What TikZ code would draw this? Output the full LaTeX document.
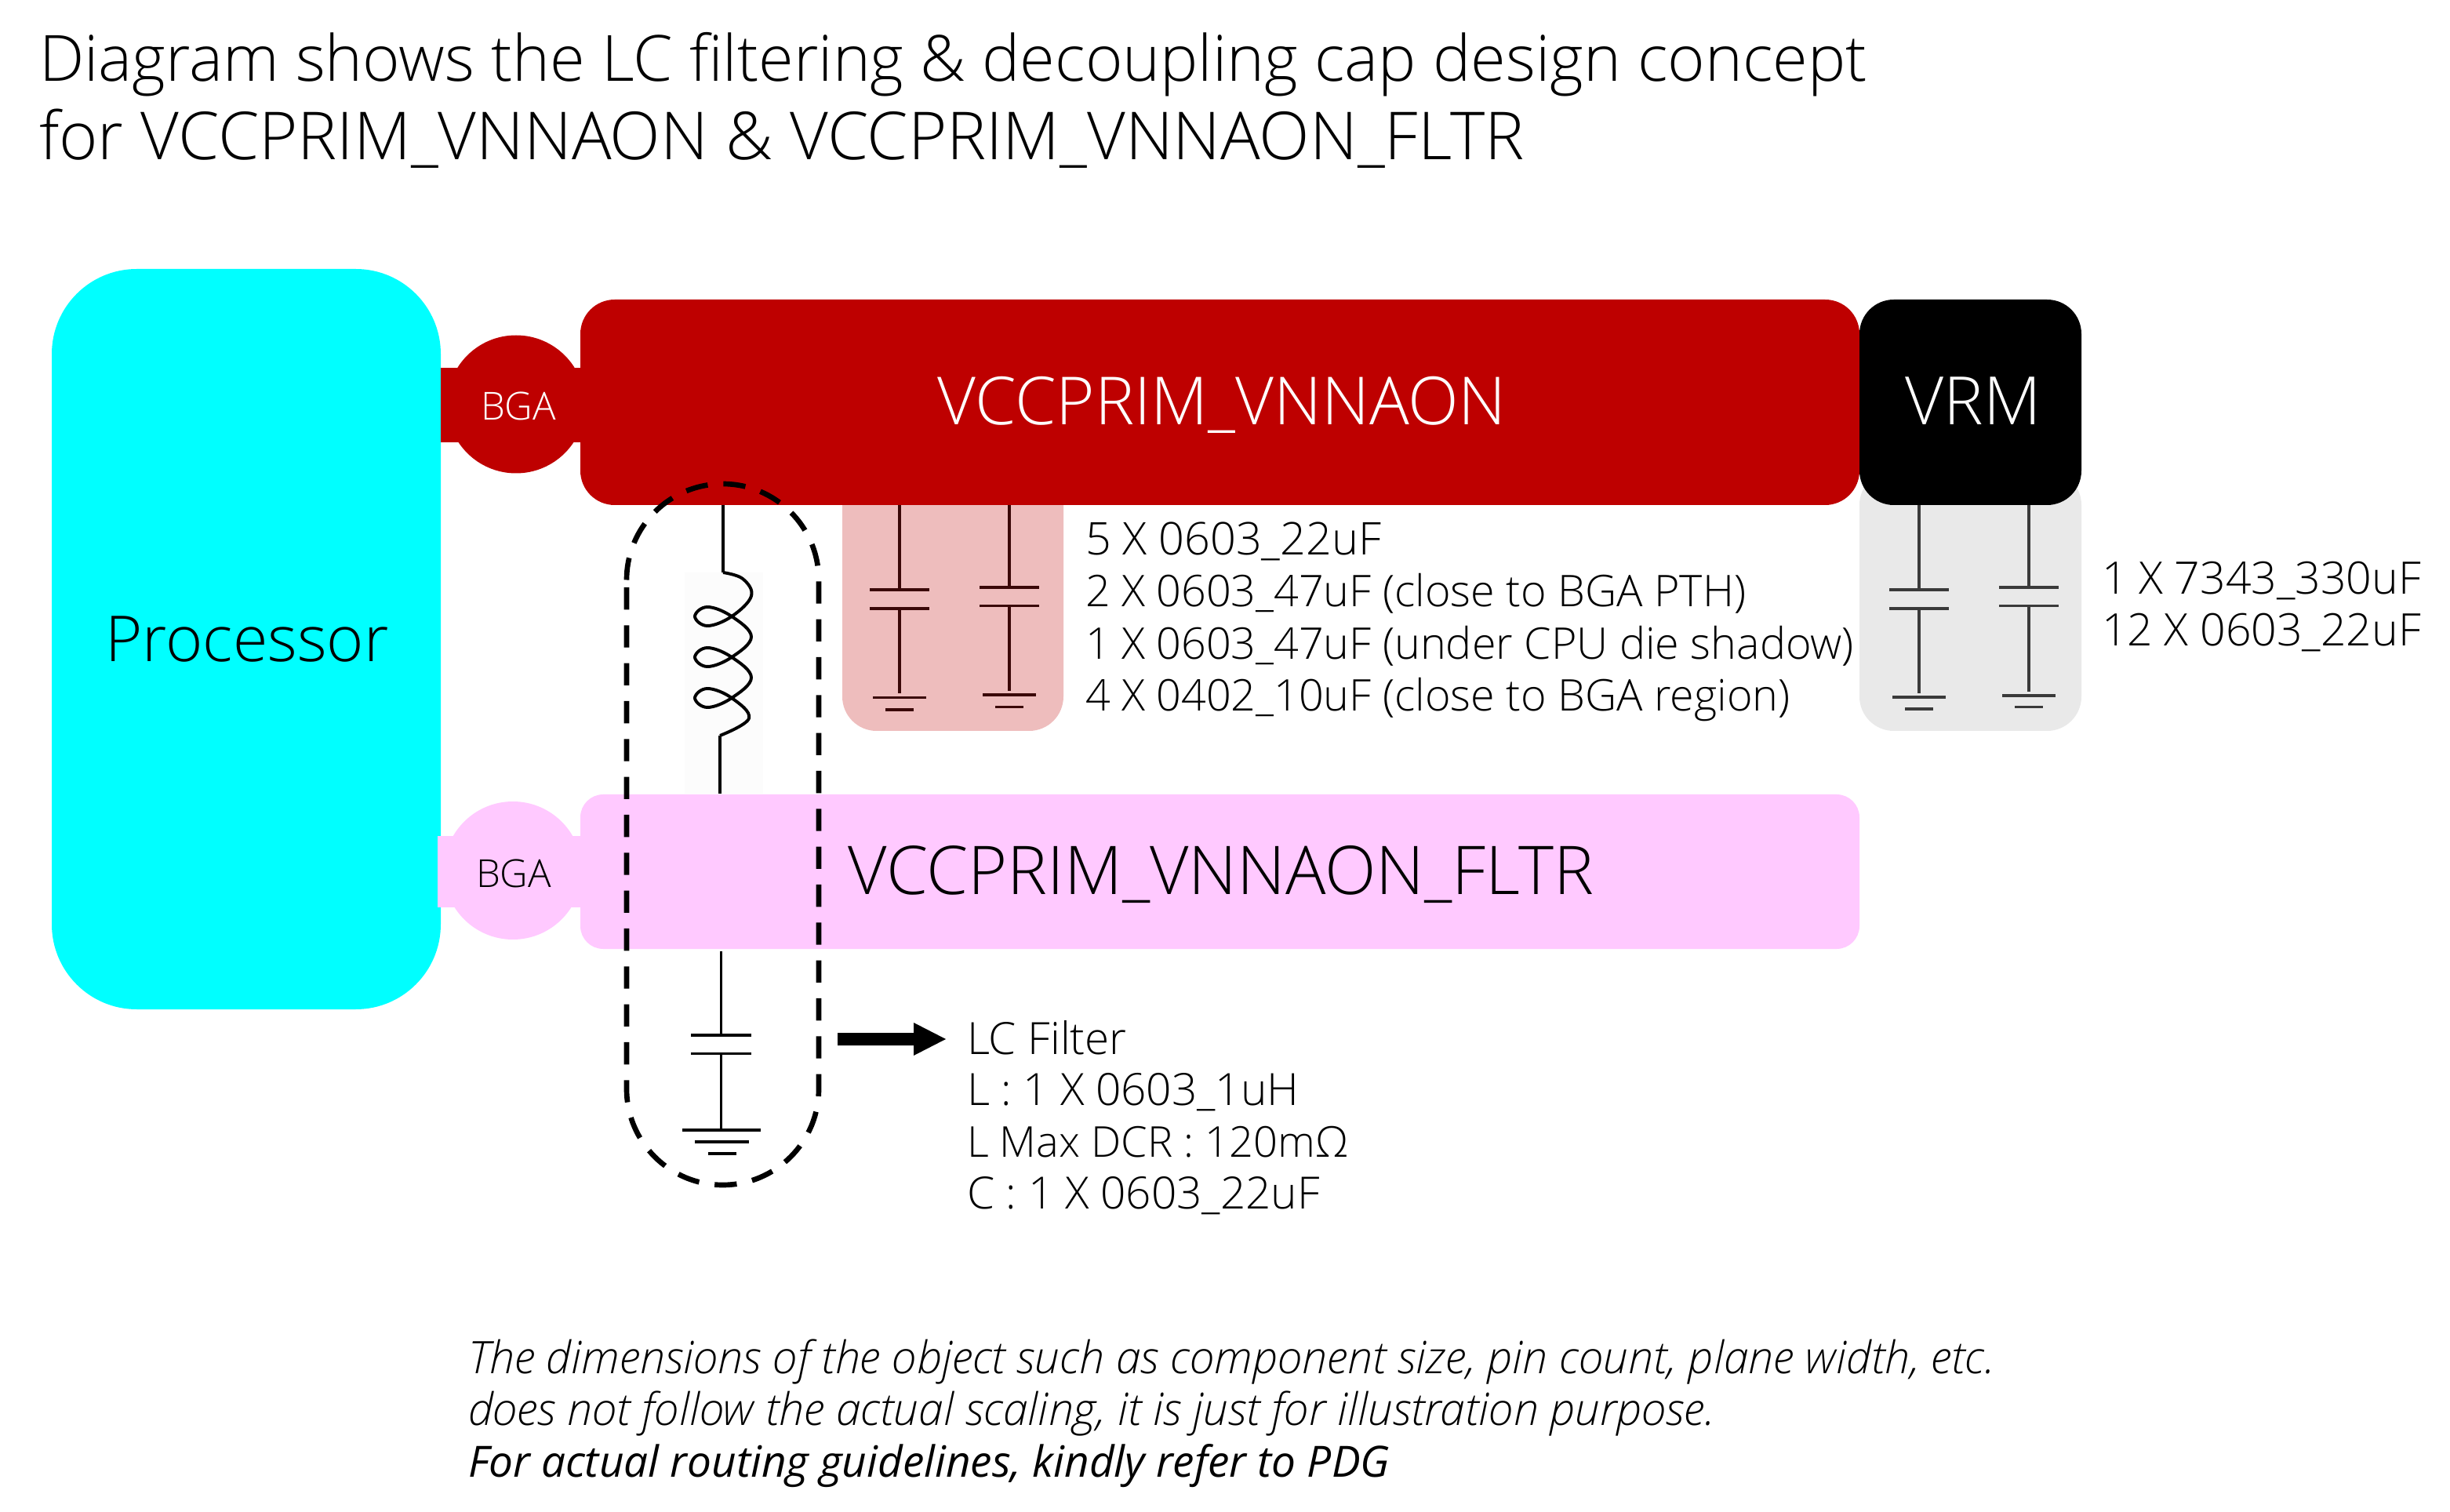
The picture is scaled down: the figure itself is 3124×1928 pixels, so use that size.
\documentclass[tikz,border=0pt]{standalone}
\usepackage{fontspec}
\setmainfont{Open Sans Light}[ItalicFont={Open Sans Light Italic},BoldFont={Open Sans}]
\newfontfamily\regf{Open Sans}[ItalicFont={Open Sans Italic}]
\usetikzlibrary{arrows.meta,calc}
\definecolor{cred}{HTML}{BE0000}
\definecolor{ccyan}{HTML}{00FFFF}
\definecolor{cpink}{HTML}{FFC9FF}
\definecolor{cpinkcap}{HTML}{EEBDBD}
\definecolor{cgrey}{HTML}{E9E9E9}
\definecolor{cdark}{HTML}{3A0808}
\definecolor{cgdark}{HTML}{3A3A3A}
\newcommand{\fs}[2]{\fontsize{#1}{#2}\selectfont}
\tikzset{
  x=0.24pt,y=-0.24pt,
  txt/.style={inner sep=0pt,outer sep=0pt,anchor=base},
  blk/.style={inner sep=0pt,outer sep=0pt,anchor=north west,align=left},
  wire/.style={line width=0.75pt},
  coil/.style={line width=0.95pt,line join=round},
  dashloop/.style={line width=1.6pt,dash pattern=on 6.8pt off 4.8pt,draw=black}
}
% \capg{x}{top}{plate1}{plate2}{gnd1}{gnd2}{colour}
\newcommand{\capg}[7]{%
  \draw[wire,draw=#7] (#1,#2) -- (#1,#3);
  \draw[wire,draw=#7] (#1-38,#3) -- (#1+38,#3);
  \draw[wire,draw=#7] (#1-38,#4) -- (#1+38,#4);
  \draw[wire,draw=#7] (#1,#4) -- (#1,#5-5);
  \draw[wire,draw=#7] (#1-34,#5) -- (#1+34,#5);
  \draw[wire,draw=#7] (#1-18,#6) -- (#1+18,#6);
}
\begin{document}
\begin{tikzpicture}
\useasboundingbox (0,0) rectangle (3124,1928);
% processor
\fill[ccyan,rounded corners=26pt] (66,343) rectangle (562,1287);
\node[txt,font=\fs{19.4}{24}] (proc) at (315,844) {Processor};
% cap backdrops
\fill[cpinkcap,rounded corners=10.5pt] (1074,600) rectangle (1356,932);
\fill[cgrey,rounded corners=10.5pt] (2371,600) rectangle (2654,932);
% red rail
\fill[cred] (562,469) rectangle (760,564);
\fill[cred] (658,515.5) circle[radius=88];
\fill[cred,rounded corners=10.5pt] (740,382) rectangle (2371,644);
\node[txt,font=\fs{20.3}{24},text=white] (rail) at (1558,542) {VCCPRIM\_VNNAON};
\node[txt,font=\fs{11.8}{16},text=white] (bgaa) at (661,536) {BGA};
% VRM
\fill[black,rounded corners=10.5pt] (2371,382) rectangle (2654,644);
\node[txt,font=\fs{20.4}{24},text=white] (vrm) at (2516,542) {VRM};
% caps
\capg{1147}{644}{752}{776}{889.5}{905}{cdark}
\capg{1287}{644}{749}{772.5}{886}{901.5}{cdark}
\capg{2447}{644}{752}{776}{889}{904}{cgdark}
\capg{2587}{644}{749}{772.5}{887}{901.5}{cgdark}
% faint inductor image backdrop
\fill[black!1.2] (873,730) rectangle (973,1012);
% inductor
\draw[coil] (922,644) -- (922,730);
\draw[coil] plot[smooth,tension=0.65] coordinates {(922,730) (947,738) (958,760) (933,786) (902,798) (886,786) (902,774) (933,786) (958,812) (933,838) (902,850) (886,838) (902,826) (933,838) (958,864) (933,890) (902,902) (886,890) (902,878) (933,890) (955,916) (918,938)};
\draw[coil] (918,938) -- (918,1012);
% filtered rail
\fill[cpink] (558,1066) rectangle (760,1157);
\fill[cpink] (654,1110) circle[radius=88];
\fill[cpink,rounded corners=7pt] (740,1013) rectangle (2371,1210);
\node[txt,font=\fs{20.56}{24}] (fltr) at (1557,1140) {VCCPRIM\_VNNAON\_FLTR};
\node[txt,font=\fs{11.8}{16}] (bgab) at (655,1131) {BGA};
% LC capacitor
\draw[wire] (919.5,1213) -- (919.5,1320);
\draw[wire] (881,1320) -- (958,1320);
\draw[wire] (881,1343.5) -- (958,1343.5);
\draw[wire] (919.5,1343.5) -- (919.5,1441);
\draw[wire] (870,1441) -- (970,1441);
\draw[wire] (886,1456) -- (955,1456);
\draw[wire] (903,1471) -- (939,1471);
% dashed outline
\draw[dashloop] (799,739.5) arc[start angle=180,end angle=360,radius=122.5] -- (1044,1388.5) arc[start angle=0,end angle=180,radius=122.5] -- cycle;
% arrow
\fill[black] (1068,1317) -- (1165,1317) -- (1165,1304) -- (1206,1325) -- (1165,1346) -- (1165,1333) -- (1068,1333) -- cycle;
% text
\node[blk,font=\fs{19.5}{24}] (title) at (50,41) {Diagram shows the LC filtering \& decoupling cap design concept\\{\fs{20.25}{24}for VCCPRIM\_VNNAON \& VCCPRIM\_VNNAON\_FLTR}};
\node[blk,font=\fs{13.35}{15.9}] (list) at (1384,666) {{\fs{13.8}{15.9}5 X 0603\_22uF}\\2 X 0603\_47uF (close to BGA PTH)\\1 X 0603\_47uF (under CPU die shadow)\\4 X 0402\_10uF (close to BGA region)};
\node[blk,font=\fs{13.7}{15.9}] (vrmlist) at (2680,716) {1 X 7343\_330uF\\12 X 0603\_22uF};
\node[blk,font=\fs{13.6}{15.8}] (lc) at (1233,1301) {LC Filter\\L : 1 X 0603\_1uH\\{\fs{13}{15.8}L Max DCR : 120m\symbol{"03A9}}\\C : 1 X 0603\_22uF};
\node[blk,font=\fs{13.7}{15.8}\itshape] (note) at (597,1708) {The dimensions of the object such as component size, pin count, plane width, etc.\\does not follow the actual scaling, it is just for illustration purpose.\\{\regf\fs{13.18}{15.8}\itshape For actual routing guidelines, kindly refer to PDG}};
\end{tikzpicture}
\end{document}
